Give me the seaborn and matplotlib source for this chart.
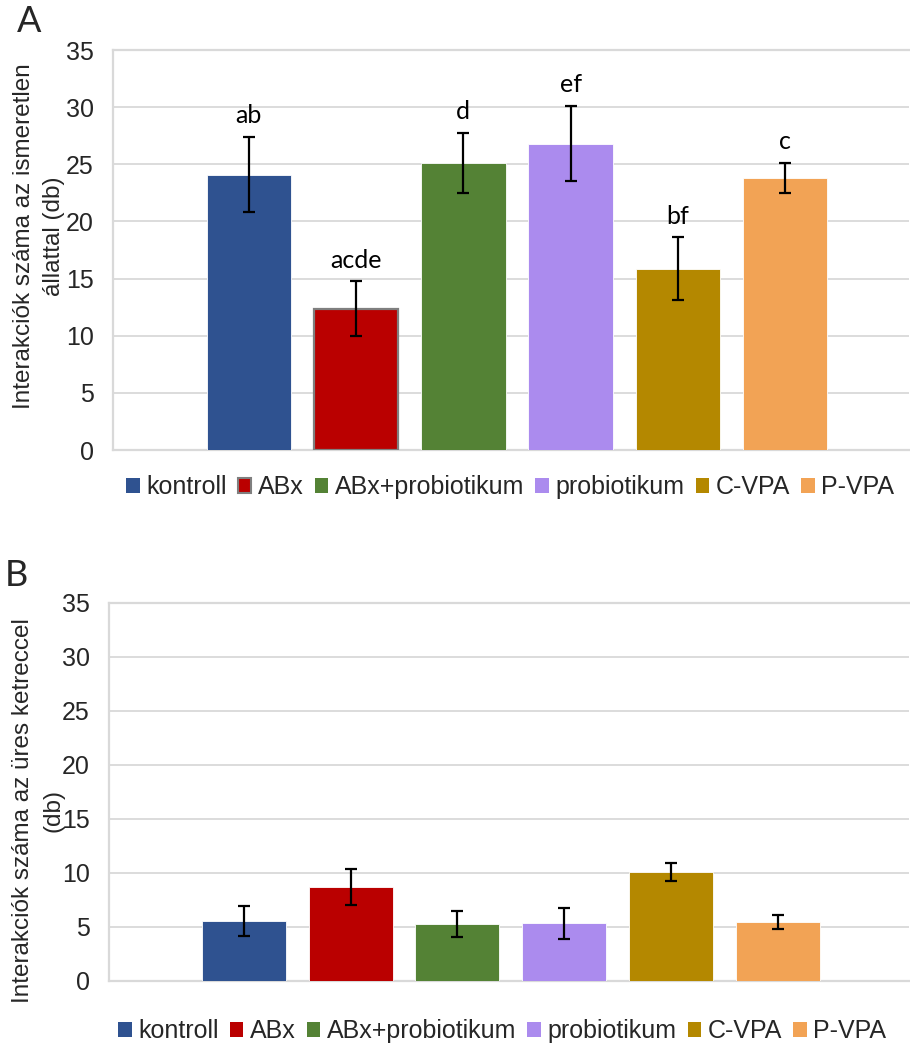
import matplotlib
matplotlib.use("Agg")
import matplotlib.pyplot as plt
from matplotlib.patches import Patch
import seaborn as sns
import pandas as pd

groups = ["kontroll", "ABx", "ABx+probiotikum", "probiotikum", "C-VPA", "P-VPA"]
colors = ["#2F5290", "#BA0000", "#548235", "#AB8BEE", "#B48800", "#F2A355"]

a_values = [24.1, 12.35, 25.1, 26.8, 15.85, 23.8]
a_errors = [3.3, 2.4, 2.65, 3.3, 2.75, 1.35]
a_letters = ["ab", "acde", "d", "ef", "bf", "c"]

b_values = [5.58, 8.7, 5.3, 5.35, 10.1, 5.47]
b_errors = [1.39, 1.65, 1.2, 1.43, 0.8, 0.66]

yticks = [0, 5, 10, 15, 20, 25, 30, 35]
ylabel_a = "Interakciók száma az ismeretlen\nállattal (db)"
ylabel_b = "Interakciók száma az üres ketreccel\n(db)"

sns.set_theme(style="white")
plt.rcParams["font.family"] = ["Liberation Sans", "DejaVu Sans"]

fig = plt.figure(figsize=(9.1, 10.5), dpi=100)
W, H = 910, 1050

def make_axes(left_px, top_px, bottom_px):
    return fig.add_axes([left_px / W, 1 - bottom_px / H, (W - 1 - left_px) / W, (bottom_px - top_px) / H])

ax_a = make_axes(113, 50, 450)
ax_b = make_axes(109, 603, 981)

grid_c = "#D9D9D9"

def draw(ax, values, errors, xlim, abx_edge):
    df = pd.DataFrame({"group": groups, "value": values})
    sns.barplot(data=df, x="group", y="value", hue="group", palette=colors,
                dodge=False, width=0.787, legend=False, ax=ax, zorder=3,
                errorbar=None, saturation=1)
    for i, p in enumerate(ax.patches):
        p.set_zorder(3)
        if abx_edge and i == 1:
            p.set_edgecolor("#7F7F7F")
            p.set_linewidth(1.6)
        else:
            p.set_edgecolor("white")
            p.set_linewidth(0.6)
    ax.errorbar(range(len(groups)), values, yerr=errors, fmt="none",
                ecolor="black", elinewidth=1.6, capsize=4, capthick=1.6, zorder=4)
    ax.set_xlim(*xlim)
    ax.set_ylim(0, 35)
    ax.set_yticks(yticks)
    ax.set_yticklabels([str(t) for t in yticks], fontsize=18, color="#262626")
    ax.set_xticks([])
    ax.set_xlabel("")
    ax.set_ylabel("")
    ax.tick_params(axis="y", length=0, pad=14)
    for yv in yticks[1:]:
        ax.axhline(yv, color=grid_c, lw=1.3, zorder=1)
    for s in ["left", "top", "bottom"]:
        ax.spines[s].set_color(grid_c)
        ax.spines[s].set_linewidth(1.6)
    ax.spines["right"].set_visible(False)

draw(ax_a, a_values, a_errors, (-1.266, 6.155), True)
draw(ax_b, b_values, b_errors, (-1.263, 6.229), False)

for i, (v, e, t) in enumerate(zip(a_values, a_errors, a_letters)):
    ax_a.annotate(t, (i, v + e), xytext=(0, 10), textcoords="offset points",
                  ha="center", va="baseline", fontsize=18, family=["Lato", "DejaVu Sans"],
                  color="black")

fig.text(29 / W, 1 - 22 / H, "A", fontsize=26, family=["Lato", "DejaVu Sans"], ha="center", va="center")
fig.text(16 / W, 1 - 576 / H, "B", fontsize=26, family=["Lato", "DejaVu Sans"], ha="center", va="center")

fig.text(39 / W, 1 - 236 / H, ylabel_a, rotation=90, fontsize=17.5, ha="center", va="center",
         multialignment="center", linespacing=1.5, color="#262626")
fig.text(38 / W, 1 - 811 / H, ylabel_b, rotation=90, fontsize=17.5, ha="center", va="center",
         multialignment="center", linespacing=1.5, color="#262626")

def legend(y_px, x_px, abx_edge):
    handles = []
    for i, (g, c) in enumerate(zip(groups, colors)):
        if abx_edge and i == 1:
            handles.append(Patch(facecolor=c, edgecolor="#7F7F7F", linewidth=1.5, label=g))
        else:
            handles.append(Patch(facecolor=c, edgecolor="none", label=g))
    fig.legend(handles=handles, loc="center", bbox_to_anchor=(x_px / W, 1 - y_px / H),
               ncol=6, frameon=False, fontsize=18, handlelength=0.55, handleheight=0.55,
               handletextpad=0.25, columnspacing=0.45, borderpad=0, labelcolor="#262626")

legend(487, 510, True)
legend(1031, 502, False)

fig.savefig("out.png", dpi=100)
